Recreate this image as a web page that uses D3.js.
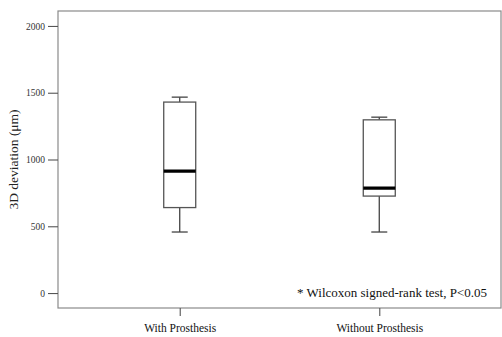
<!DOCTYPE html>
<html>
<head>
<meta charset="utf-8">
<script src="https://cdn.jsdelivr.net/npm/d3@7"></script>
<style>
  body { margin: 0; background: #fff; }
  svg { display: block; font-family: "Liberation Serif", "Times New Roman", serif; }
</style>
</head>
<body>
<script>
// box summaries (µm)
var groups = ["With Prosthesis", "Without Prosthesis"];
var whiskerLow = [457, 457];
var q1 = [640, 726];
var medians = [913, 786];
var q3 = [1430, 1297];
var whiskerHigh = [1467, 1317];
var yTicks = [0, 500, 1000, 1500, 2000];

var W = 502, H = 337;
var plot = {left: 58, right: 501, top: 11, bottom: 308};

var svg = d3.select("body").append("svg")
    .attr("width", W).attr("height", H);

var x = d3.scalePoint().domain(groups)
    .range([plot.left, plot.right]).padding(0.61);
var y = d3.scaleLinear().domain([-112, 2112])
    .range([plot.bottom, plot.top]);

var frameCol = "#8a8a8a";

// frame
svg.append("rect")
    .attr("x", plot.left).attr("y", plot.top)
    .attr("width", plot.right - plot.left).attr("height", plot.bottom - plot.top)
    .attr("fill", "none").attr("stroke", frameCol).attr("stroke-width", 1.2);

// y axis
var yAxis = svg.append("g")
    .attr("transform", "translate(" + plot.left + ",0)")
    .call(d3.axisLeft(y).tickValues(yTicks).tickSize(10).tickPadding(3).tickFormat(d3.format("d")));
yAxis.select(".domain").remove();
yAxis.selectAll(".tick line").attr("stroke", "#555").attr("stroke-width", 1.1);
yAxis.selectAll(".tick text").attr("font-size", 9.5).attr("fill", "#333")
    .style("font-family", "Liberation Serif, serif");

// x axis
var xAxis = svg.append("g")
    .attr("transform", "translate(0," + plot.bottom + ")")
    .call(d3.axisBottom(x).tickSize(8).tickPadding(8));
xAxis.select(".domain").remove();
xAxis.selectAll(".tick line").attr("stroke", "#555").attr("stroke-width", 1.1);
xAxis.selectAll(".tick text").attr("font-size", 11.5).attr("fill", "#111")
    .style("font-family", "Liberation Serif, serif");

// axis title
svg.append("text")
    .attr("transform", "translate(18," + y(1000) + ") rotate(-90)")
    .attr("text-anchor", "middle")
    .attr("font-size", 13.5).attr("fill", "#222")
    .text("3D deviation (\u03bcm)");

// boxes
var boxW = 32, capW = 16;
var boxes = svg.append("g").selectAll("g").data(groups).enter().append("g");

boxes.append("line")
    .attr("x1", function(d) { return x(d); }).attr("x2", function(d) { return x(d); })
    .attr("y1", function(d, i) { return y(whiskerLow[i]); })
    .attr("y2", function(d, i) { return y(q1[i]); })
    .attr("stroke", "#444").attr("stroke-width", 1.3);
boxes.append("line")
    .attr("x1", function(d) { return x(d); }).attr("x2", function(d) { return x(d); })
    .attr("y1", function(d, i) { return y(q3[i]); })
    .attr("y2", function(d, i) { return y(whiskerHigh[i]); })
    .attr("stroke", "#444").attr("stroke-width", 1.3);
boxes.append("line")
    .attr("x1", function(d) { return x(d) - capW / 2; }).attr("x2", function(d) { return x(d) + capW / 2; })
    .attr("y1", function(d, i) { return y(whiskerLow[i]); })
    .attr("y2", function(d, i) { return y(whiskerLow[i]); })
    .attr("stroke", "#444").attr("stroke-width", 1.3);
boxes.append("line")
    .attr("x1", function(d) { return x(d) - capW / 2; }).attr("x2", function(d) { return x(d) + capW / 2; })
    .attr("y1", function(d, i) { return y(whiskerHigh[i]); })
    .attr("y2", function(d, i) { return y(whiskerHigh[i]); })
    .attr("stroke", "#444").attr("stroke-width", 1.3);
boxes.append("rect")
    .attr("x", function(d) { return x(d) - boxW / 2; })
    .attr("width", boxW)
    .attr("y", function(d, i) { return y(q3[i]); })
    .attr("height", function(d, i) { return y(q1[i]) - y(q3[i]); })
    .attr("fill", "#fff").attr("stroke", "#555").attr("stroke-width", 1.3);
boxes.append("line")
    .attr("x1", function(d) { return x(d) - boxW / 2; }).attr("x2", function(d) { return x(d) + boxW / 2; })
    .attr("y1", function(d, i) { return y(medians[i]); })
    .attr("y2", function(d, i) { return y(medians[i]); })
    .attr("stroke", "#000").attr("stroke-width", 3.2);

// note
svg.append("text")
    .attr("x", 297).attr("y", 297)
    .attr("font-size", 13).attr("fill", "#111")
    .text("* Wilcoxon signed-rank test, P<0.05");
</script>
</body>
</html>
